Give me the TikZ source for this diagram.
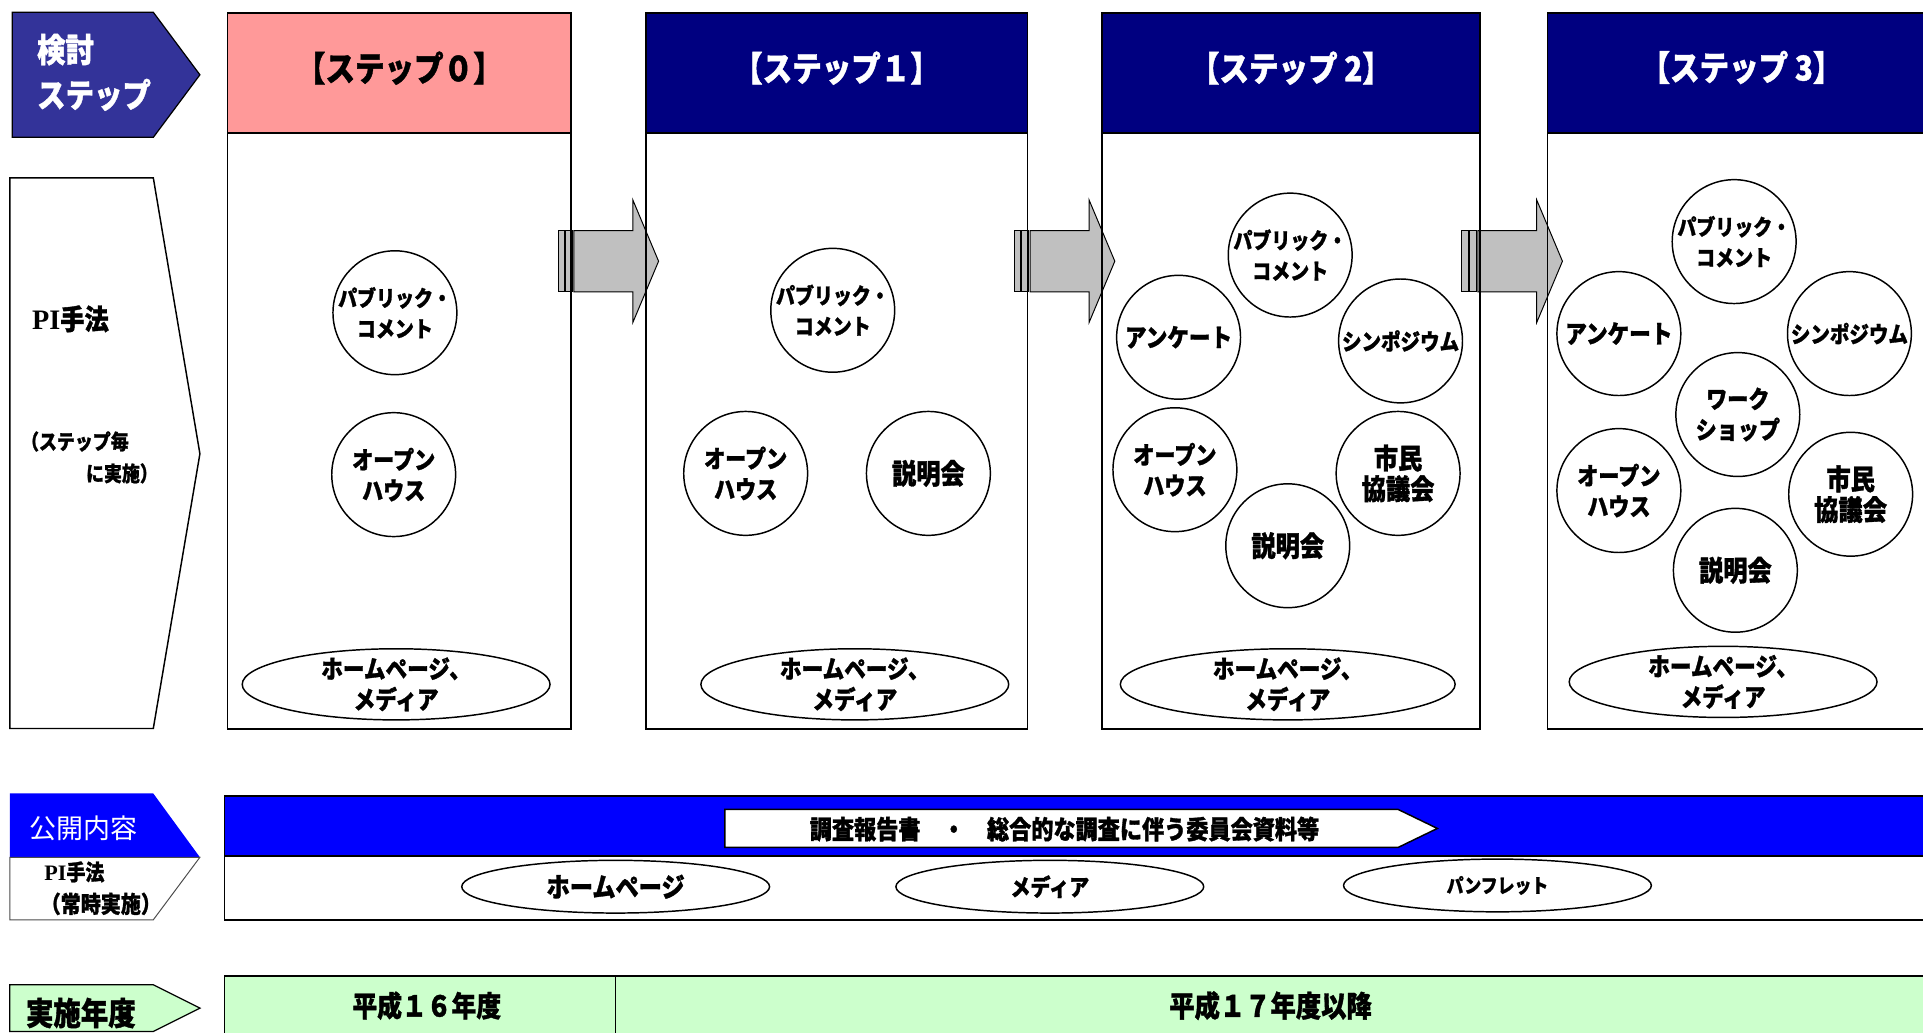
\documentclass[tikz,border=0pt]{standalone}
\usepackage{fontspec}
\setmainfont{Noto Sans CJK JP}
\newfontfamily\jpc{Noto Sans CJK JP}[FakeStretch=0.86, BoldFeatures={FakeBold=1.2}]
\newfontfamily\tms{Liberation Serif}
\usetikzlibrary{shapes.geometric}
\definecolor{navyb}{HTML}{000080}
\definecolor{kblue}{HTML}{333399}
\definecolor{pinkh}{HTML}{FF9999}
\definecolor{pblue}{HTML}{0000FF}
\definecolor{lgreen}{HTML}{CCFFCC}
\definecolor{agray}{HTML}{C0C0C0}
\tikzset{
  fs/.style={font=\jpc\bfseries\fontsize{#1}{25}\selectfont},
  circ/.style={circle, draw, line width=1.2pt, minimum size=101pt, inner sep=-14pt, align=center, fs=18},
  ell/.style={ellipse, draw, line width=1.2pt, minimum width=251pt, minimum height=58pt, inner sep=-6pt, align=center, fs=20.5},
  ellb/.style={ellipse, draw, line width=1.2pt, minimum width=251pt, minimum height=43pt, inner sep=-4pt, align=center, fs=19},
  stephdr/.style={draw, line width=1.2pt, anchor=north west, minimum height=98pt, inner sep=0pt},
  hdrtxt/.style={inner sep=0pt, fs=28},
  stepbody/.style={draw, line width=1.2pt, anchor=north west, minimum height=486pt, inner sep=0pt},
  lbl/.style={inner sep=0pt, anchor=west},
  garrow/.pic={
    \draw[fill=agray, line width=0.8pt] (0,-25) -- (48,-25) -- (48,-50) -- (69,0) -- (48,50) -- (48,25) -- (0,25) -- cycle;
    \draw[fill=agray, line width=0.8pt] (-13,-25) rectangle (-8,25);
    \draw[fill=agray, line width=0.8pt] (-7,-25) rectangle (-1,25);
  }
}
\begin{document}
\begin{tikzpicture}[x=1pt,y=-1pt]
\useasboundingbox (0,0) rectangle (1568,842);
\fill[white] (0,0) rectangle (1568,842);

% ---- left labels ----
\draw[fill=kblue, line width=1pt] (10,10) -- (125,10) -- (163,61) -- (125,112) -- (10,112) -- cycle;
\node[lbl, text=white, align=left, font=\jpc\bfseries\fontsize{27}{37}\selectfont] (kentou) at (30,59) {検討\\ステップ};

\draw[line width=1.2pt] (8,145) -- (125,145) -- (163,370) -- (125,594) -- (8,594) -- cycle;
\node[lbl, fs=23] (pi1) at (26,260) {{\tms\bfseries PI}手法};
\node[lbl, fs=17] (pi1a) at (17,360) {（ステップ毎};
\node[lbl, fs=17] (pi1b) at (70,386) {に実施）};

% ---- gray arrows ----
\pic at (468,213) {garrow};
\pic at (840,213) {garrow};
\pic at (1205,213) {garrow};

% ---- step boxes ----
\node[stephdr, fill=pinkh, minimum width=280pt] (h0) at (185,10) {};
\node[hdrtxt] (t0) at ([yshift=4pt]h0.center) {【ステップ０】};
\node[stepbody, minimum width=280pt] (b0) at (185,108) {};
\node[stephdr, fill=navyb, minimum width=311pt] (h1) at (526,10) {};
\node[hdrtxt, text=white] (t1) at ([yshift=4pt]h1.center) {【ステップ１】};
\node[stepbody, minimum width=311pt] (b1) at (526,108) {};
\node[stephdr, fill=navyb, minimum width=308pt] (h2) at (898,10) {};
\node[hdrtxt, text=white] (t2) at ([yshift=4pt]h2.center) {【ステップ 2】};
\node[stepbody, minimum width=308pt] (b2) at (898,108) {};
\node[stephdr, fill=navyb, minimum width=330pt] (h3) at (1261,10) {};
\node[hdrtxt, text=white] (t3) at (1420,55) {【ステップ 3】};
\node[stepbody, minimum width=330pt] (b3) at (1261,108) {};

% step 0
\node[circ] (s0pc) at (322,255) {パブリック・\\コメント};
\node[circ, fs=20] (s0oh) at (321,387) {オープン\\ハウス};
\node[ell] (s0hm) at (323,558) {ホームページ、\\メディア};
% step 1
\node[circ] (s1pc) at (679,253) {パブリック・\\コメント};
\node[circ, fs=20] (s1oh) at (608,386) {オープン\\ハウス};
\node[circ, fs=23] (s1sm) at (757,386) {説明会};
\node[ell] (s1hm) at (697,558) {ホームページ、\\メディア};
% step 2
\node[circ] (s2pc) at (1052,208) {パブリック・\\コメント};
\node[circ, fs=20.5] (s2an) at (961,275) {アンケート};
\node[circ, fs=18.5] (s2sy) at (1142,278) {シンポジウム};
\node[circ, fs=20] (s2oh) at (958,383) {オープン\\ハウス};
\node[circ, fs=23] (s2sk) at (1140,386) {市民\\協議会};
\node[circ, fs=23] (s2sm) at (1050,445) {説明会};
\node[ell, minimum width=273pt] (s2hm) at (1050,558) {ホームページ、\\メディア};
% step 3
\node[circ] (s3pc) at (1414,197) {パブリック・\\コメント};
\node[circ, fs=20.5] (s3an) at (1320,272) {アンケート};
\node[circ, fs=18.5] (s3sy) at (1508,272) {シンポジウム};
\node[circ, fs=20] (s3ws) at (1417,338) {ワーク\\ショップ};
\node[circ, fs=20] (s3oh) at (1320,400) {オープン\\ハウス};
\node[circ, fs=23] (s3sk) at (1509,403) {市民\\協議会};
\node[circ, fs=23] (s3sm) at (1415,465) {説明会};
\node[ell] (s3hm) at (1405,556) {ホームページ、\\メディア};

% ---- publication section ----
\fill[pblue] (8,647) -- (125,647) -- (163,699) -- (8,699) -- cycle;
\draw[line width=0.8pt, black!70] (8,699) -- (163,699) -- (125,750) -- (8,750) -- cycle;
\node[lbl, text=white, font=\fontsize{22}{26}\selectfont] (kokai) at (24,675) {公開内容};
\node[lbl, fs=18] (pi2) at (36,711) {{\tms\bfseries PI}手法};
\node[lbl, fs=19] (pi2a) at (33,737) {（常時実施）};

\draw[fill=pblue, line width=1.2pt] (183,649) rectangle (1600,698);
\draw[fill=white, line width=1.2pt] (183,698) rectangle (1600,750);
\draw[fill=white, line width=1.2pt] (591,660) -- (1140,660) -- (1172,675.5) -- (1140,691) -- (591,691) -- cycle;
\node[fs=21] (docs) at (868,676) {調査報告書　・　総合的な調査に伴う委員会資料等};

\node[ellb, fs=22] (hp) at (502,723) {ホームページ};
\node[ellb] (md) at (856,723) {メディア};
\node[ellb, fs=16] (pf) at (1221,722) {パンフレット};

% ---- year section ----
\draw[fill=lgreen, line width=1pt] (8,803) -- (125,803) -- (163,822) -- (125,841) -- (8,841) -- cycle;
\node[lbl, fs=26] (nendo) at (21,826) {実施年度};
\draw[fill=lgreen, line width=1.2pt] (183,796) rectangle (1600,870);
\draw[line width=1.2pt] (502,796) -- (502,870);
\node[fs=23.5] (y16) at (348,820) {平成１６年度};
\node[fs=24] (y17) at (1036,820) {平成１７年度以降};
\end{tikzpicture}
\end{document}
